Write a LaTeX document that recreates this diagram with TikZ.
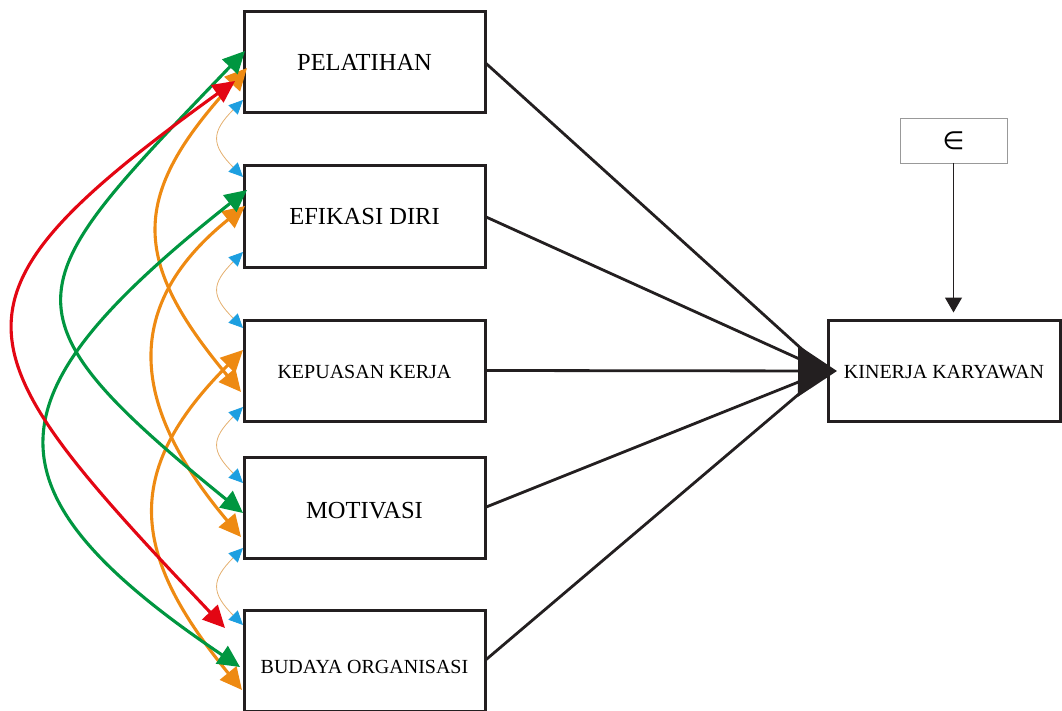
\documentclass[tikz,border=0pt]{standalone}
\usepackage{fontspec}
\setmainfont{Liberation Serif}
\newfontfamily\symfont{DejaVu Sans}
\usetikzlibrary{arrows.meta,calc}
\definecolor{cgreen}{RGB}{0,150,64}
\definecolor{cred}{RGB}{227,6,19}
\definecolor{corange}{RGB}{238,138,18}
\definecolor{cblue}{RGB}{29,159,224}
\definecolor{ctan}{RGB}{228,176,112}
\definecolor{cblack}{RGB}{35,31,32}
\begin{document}
\begin{tikzpicture}[x=1pt,y=-1pt,
  varbox/.style={draw=cblack, line width=3pt, outer sep=0pt, minimum width=241pt, minimum height=101pt, inner sep=0pt, align=center, text depth=0pt},
  bigtxt/.style={font=\fontsize{24.5}{29}\selectfont},
  smalltxt/.style={font=\fontsize{20}{24}\selectfont},
  cov/.style={line width=3.1pt, {Triangle[length=22pt,width=21pt]}-{Triangle[length=22pt,width=21pt]}},
  covsmall/.style={draw=ctan, line width=0.8pt, {Triangle[length=14pt,width=13pt,color=cblue]}-{Triangle[length=14pt,width=13pt,color=cblue]}},
  path/.style={draw=cblack, line width=2.8pt, shorten >=18pt},
]
\useasboundingbox (0,0) rectangle (1062,711);

% boxes
\node[varbox, bigtxt, text height=16.2pt] (PEL) at (364.5,62.5) {PELATIHAN};
\node[varbox, bigtxt, text height=16.2pt] (EFI) at (364.5,216.5) {EFIKASI DIRI};
\node[varbox, smalltxt, text height=15.2pt] (KEP) at (364.5,370.5) {KEPUASAN KERJA};
\node[varbox, bigtxt, text height=21.2pt] (MOT) at (364.5,507.5) {MOTIVASI};
\node[varbox, smalltxt, text height=26.2pt] (BUD) at (364.5,660.5) {BUDAYA ORGANISASI};
\node[varbox, smalltxt, minimum width=232pt, text height=15.2pt] (KIN) at (944,371) {KINERJA KARYAWAN};
\node[draw=gray!80, line width=0.8pt, outer sep=0pt, minimum width=107pt, minimum height=45pt, inner sep=0pt, font=\symfont\fontsize{25}{30}\selectfont] (EPS) at (953.5,140.5) {∈};

% paths to KINERJA
\coordinate (tip) at ([xshift=-2pt]KIN.west);
\draw[path] (PEL.east) -- (tip);
\draw[path] (EFI.east) -- (tip);
\draw[path] (MOT.east) -- (tip);
\draw[path] (BUD.east) -- (tip);
\draw[draw=cblack, line width=2.8pt, -{Triangle[length=39pt,width=51pt]}] (KEP.east) -- ([xshift=9pt]KIN.west);

% error term
\draw[draw=cblack, line width=1.2pt, shorten >=8pt, -{Triangle[length=15pt,width=17pt]}] (EPS.south) -- (EPS.south |- KIN.north);

% small covariances between neighbours
\draw[covsmall] ([xshift=-1pt,yshift=-37.5pt]PEL.west) .. controls +(-32,32) and +(-32,-32) .. ([xshift=-1pt,yshift=39.5pt]EFI.west);
\draw[covsmall] ([xshift=-1pt,yshift=-35.5pt]EFI.west) .. controls +(-32,32) and +(-32,-32) .. ([xshift=-1pt,yshift=42.5pt]KEP.west);
\draw[covsmall] ([xshift=-1pt,yshift=-36.5pt]KEP.west) .. controls +(-32,32) and +(-32,-32) .. ([xshift=-1pt,yshift=24.5pt]MOT.west);
\draw[covsmall] ([xshift=-1pt,yshift=-40.5pt]MOT.west) .. controls +(-32,32) and +(-32,-32) .. ([xshift=-1pt,yshift=35.5pt]BUD.west);

% long covariances
\draw[cov, draw=corange] ([xshift=3pt,yshift=-5.5pt]PEL.west) .. controls +(-118,128) and +(-110,-132) .. ([xshift=-3pt,yshift=-21.5pt]KEP.west);
\draw[cov, draw=corange] ([xshift=1pt,yshift=10.5pt]EFI.west) .. controls +(-129,104) and +(-106,-126) .. ([xshift=-3pt,yshift=-29.5pt]MOT.west);
\draw[cov, draw=corange] ([xshift=-1pt,yshift=20.5pt]KEP.west) .. controls +(-123,123) and +(-110,-134.5) .. ([xshift=-2pt,yshift=-29.5pt]BUD.west);
\draw[cov, draw=cgreen] ([xshift=1pt,yshift=11.5pt]PEL.west) .. controls +(-225,235) and +(-253,-205) .. ([xshift=-1pt,yshift=-5.5pt]MOT.west);
\draw[cov, draw=cgreen] ([xshift=3pt,yshift=26.5pt]EFI.west) .. controls +(-254,201) and +(-269,-181) .. ([xshift=-4pt,yshift=-6.5pt]BUD.west);
\draw[cov, draw=cred] ([xshift=-9pt,yshift=-18.5pt]PEL.west) .. controls +(-305,220) and +(-268,-283) .. ([xshift=-19pt,yshift=32.5pt]BUD.west);
\end{tikzpicture}
\end{document}
